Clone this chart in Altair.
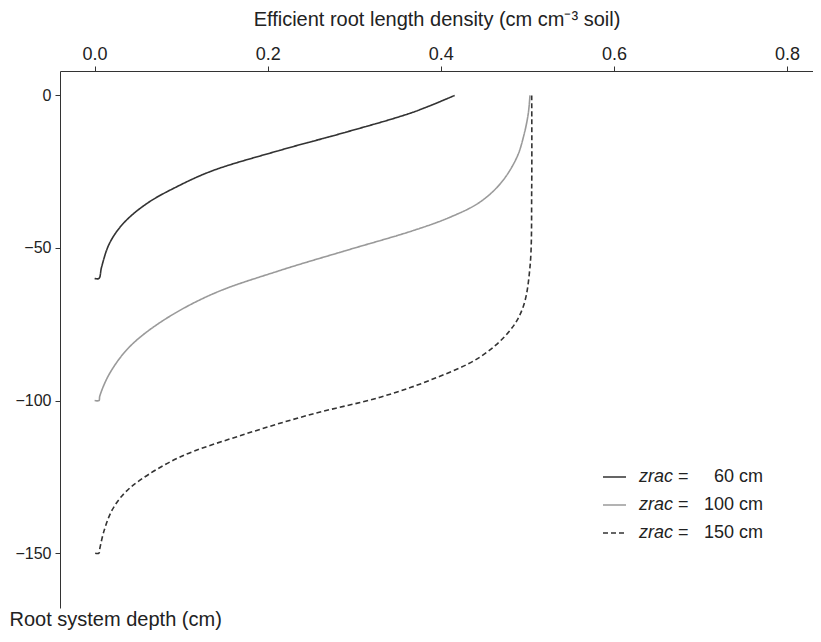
import altair as alt
import pandas as pd

# zrac = 60 cm (dark solid)
d60_x = [0.416, 0.368, 0.291, 0.214, 0.137, 0.098, 0.060, 0.033, 0.017, 0.008, 0.005, 0.0]
d60_y = [0.0, -5.5, -12.0, -18.0, -24.6, -29.5, -35.5, -42.0, -48.6, -56.3, -60.0, -60.0]

# zrac = 100 cm (grey solid)
d100_x = [0.503, 0.501, 0.496, 0.488, 0.470, 0.445, 0.410, 0.368, 0.291, 0.214, 0.137, 0.079, 0.040, 0.017, 0.006, 0.005, 0.0]
d100_y = [0.0, -6.0, -13.0, -20.2, -28.5, -35.0, -40.0, -44.3, -50.8, -57.4, -65.0, -73.8, -82.5, -91.3, -98.5, -100.0, -100.0]

# zrac = 150 cm (dashed)
d150_x = [0.505, 0.505, 0.503, 0.495, 0.480, 0.445, 0.387, 0.330, 0.252, 0.175, 0.098, 0.052, 0.034, 0.020, 0.011, 0.006, 0.005, 0.0]
d150_y = [0.0, -30.0, -56.3, -69.4, -77.0, -85.8, -93.4, -98.9, -104.4, -110.9, -118.6, -126.2, -130.5, -136.0, -142.6, -148.5, -150.0, -150.0]

series_names = ["60", "100", "150"]
legend_values = ["60 cm", "100 cm", "150 cm"]
x_ticks = [0.0, 0.2, 0.4, 0.6, 0.8]
y_ticks = [0, -50, -100, -150]

rows = []
for name, xs, ys in [("60", d60_x, d60_y), ("100", d100_x, d100_y), ("150", d150_x, d150_y)]:
    for i, (xv, yv) in enumerate(zip(xs, ys)):
        rows.append({"series": name, "i": i, "v": xv, "d": yv})
df = pd.DataFrame(rows)

FONT = "Liberation Sans"
colors = ["#333333", "#9a9a9a", "#333333"]
dashes = [[1, 0], [1, 0], [5, 3]]

lines = alt.Chart(df).mark_line(strokeWidth=1.6, interpolate="catmull-rom").encode(
    x=alt.X("v:Q", scale=alt.Scale(domain=[-0.04, 0.83], nice=False, zero=False),
            axis=alt.Axis(orient="top", values=x_ticks, format=".1f",
                          title="Efficient root length density (cm cm⁻³ soil)",
                          grid=False, tickSize=5, labelPadding=3, titlePadding=16,
                          domainColor="#333", tickColor="#333", labelColor="#222",
                          titleColor="#222", labelFontSize=18, titleFontSize=20,
                          labelFont=FONT, titleFont=FONT, titleFontWeight="normal")),
    y=alt.Y("d:Q", scale=alt.Scale(domain=[-168, 8], nice=False, zero=False),
            axis=alt.Axis(values=y_ticks, grid=False, tickSize=5, labelPadding=4,
                          title="Root system depth (cm)", titleAngle=0, titleAlign="left",
                          titleBaseline="middle", titleX=-51, titleY=548,
                          domainColor="#333", tickColor="#333", labelColor="#222",
                          titleColor="#222", labelFontSize=16, titleFontSize=20,
                          labelFont=FONT, titleFont=FONT, titleFontWeight="normal")),
    color=alt.Color("series:N", scale=alt.Scale(domain=series_names, range=colors), legend=None),
    strokeDash=alt.StrokeDash("series:N", scale=alt.Scale(domain=series_names, range=dashes), legend=None),
    order="i:Q",
)

layers = [lines]
row_y = [406, 434, 462]
for k in range(3):
    ldf = pd.DataFrame({"name": ["zrac"], "eq": ["="], "val": [legend_values[k]]})
    base = alt.Chart(ldf)
    layers.append(base.mark_rule(color=colors[k], strokeWidth=1.6, strokeDash=dashes[k]).encode(
        x=alt.value(543), x2=alt.value(566), y=alt.value(row_y[k])))
    layers.append(base.mark_text(font=FONT, fontSize=18, fontStyle="italic", align="left",
                                 baseline="middle", color="#222").encode(
        x=alt.value(579), y=alt.value(row_y[k]), text="name:N"))
    layers.append(base.mark_text(font=FONT, fontSize=18, align="left",
                                 baseline="middle", color="#222").encode(
        x=alt.value(618), y=alt.value(row_y[k]), text="eq:N"))
    layers.append(base.mark_text(font=FONT, fontSize=18, align="right",
                                 baseline="middle", color="#222").encode(
        x=alt.value(703), y=alt.value(row_y[k]), text="val:N"))

chart = alt.layer(*layers).properties(
    width=753, height=537,
    autosize=alt.AutoSizeParams(type="none"),
    padding={"left": 52, "top": 63, "right": 0, "bottom": 26},
).configure_view(stroke=None)

chart.save("out.html", embed_options={"renderer": "svg", "actions": False})
